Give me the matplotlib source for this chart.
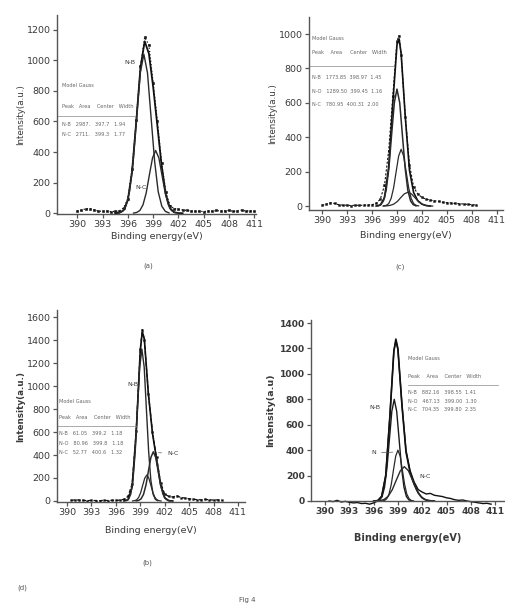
import matplotlib
matplotlib.use("Agg")
import matplotlib.pyplot as plt

plt.rcParams['font.family'] = ['DejaVu Sans']

# ---------------- data ----------------
xticks = [390, 393, 396, 399, 402, 405, 408, 411]

# panel (a)
a_raw_x = [390, 390.5, 391, 391.5, 392, 392.5, 393, 393.5, 394, 394.5, 395, 395.5, 396, 396.5, 397,
           397.5, 398, 398.5, 399, 399.5, 400, 400.5, 401, 401.5, 402, 402.5, 403, 403.5, 404, 404.5,
           405, 405.5, 406, 406.5, 407, 407.5, 408, 408.5, 409, 409.5, 410, 410.5, 411]
a_raw_y = [15, 18, 30, 28, 22, 15, 12, 14, 10, 12, 15, 35, 95, 290, 610,
           960, 1150, 1100, 850, 600, 330, 140, 50, 30, 25, 22, 18, 15, 12, 14,
           10, 15, 12, 18, 14, 16, 18, 12, 15, 20, 14, 16, 12]
a_env_x = [394.5, 395, 395.5, 396, 396.5, 397, 397.5, 398, 398.5, 399, 399.5, 400, 400.5, 401, 401.5, 402, 402.5]
a_env_y = [0, 3, 19, 85, 268, 598, 954, 1124, 1043, 828, 573, 314, 124, 32, 6, 1, 0]
a_nb_x = [394.92, 395.35, 395.78, 396.2, 396.63, 397.05, 397.48, 397.9, 398.33, 398.75, 399.18, 399.6, 400.03, 400.45, 400.88]
a_nb_y = [2, 12, 46, 141, 338, 631, 918, 1040, 918, 631, 338, 141, 46, 12, 2]
a_nc_x = [396.68, 397.05, 397.43, 397.8, 398.18, 398.55, 398.93, 399.3, 399.68, 400.05, 400.43, 400.8, 401.18, 401.55, 401.93]
a_nc_y = [1, 5, 18, 55, 133, 249, 362, 410, 362, 249, 133, 55, 18, 5, 1]
a_yticks = [0, 200, 400, 600, 800, 1000, 1200]

# panel (c)  (top right)
b_raw_x = [390, 390.5, 391, 391.5, 392, 392.5, 393, 393.5, 394, 394.5, 395, 395.5, 396, 396.5, 397,
           397.5, 398, 398.5, 399, 399.25, 399.5, 400, 400.5, 401, 401.5, 402, 402.5, 403, 403.5, 404,
           404.5, 405, 405.5, 406, 406.5, 407, 407.5, 408, 408.5]
b_raw_y = [5, 10, 20, 15, 8, 5, 5, 3, 5, 4, 5, 6, 8, 15, 40,
           120, 320, 640, 960, 990, 880, 520, 240, 110, 70, 50, 40, 35, 30, 28,
           22, 20, 18, 15, 14, 12, 10, 8, 6]
b_env_x = [396.5, 397, 397.5, 398, 398.5, 399, 399.25, 399.5, 400, 400.5, 401, 401.5, 402, 402.5, 403]
b_env_y = [0, 6, 49, 225, 596, 938, 972, 887, 516, 208, 78, 31, 11, 3, 0]
b_c1_x = [396.73, 397.05, 397.38, 397.7, 398.03, 398.35, 398.68, 399.0, 399.33, 399.65, 399.98, 400.3, 400.63, 400.95, 401.28]
b_c1_y = [1, 8, 30, 92, 221, 412, 600, 680, 600, 412, 221, 92, 30, 8, 1]
b_c2_x = [397.4, 397.7, 398.0, 398.3, 398.6, 398.9, 399.2, 399.5, 399.8, 400.1, 400.4, 400.7, 401.0, 401.3, 401.6]
b_c2_y = [1, 4, 14, 45, 107, 200, 291, 330, 291, 200, 107, 45, 14, 4, 1]
b_c3_x = [397.33, 397.75, 398.18, 398.6, 399.03, 399.45, 399.88, 400.3, 400.73, 401.15, 401.58, 402.0, 402.43, 402.85, 403.28]
b_c3_y = [0, 1, 4, 11, 26, 49, 71, 80, 71, 49, 26, 11, 4, 1, 0]
b_yticks = [0, 200, 400, 600, 800, 1000]

# panel (b)  (bottom left)
c_raw_x = [390.5, 391, 391.5, 392, 392.5, 393, 393.5, 394, 394.5, 395, 395.5, 396, 396.5, 397, 397.5,
           398, 398.5, 399, 399.25, 399.5, 400, 400.5, 401, 401.5, 402, 402.5, 403, 403.5, 404, 404.5,
           405, 405.5, 406, 406.5, 407, 407.5, 408, 408.5, 409]
c_raw_y = [5, 10, 8, 5, 3, 5, 4, 3, 5, 4, 6, 5, 8, 15, 40,
           150, 610, 1320, 1490, 1400, 930, 600, 380, 160, 60, 40, 35, 45, 30, 25,
           20, 15, 12, 10, 14, 10, 8, 10, 6]
c_env_x = [397, 397.5, 398, 398.5, 399, 399.25, 399.5, 400, 400.5, 401, 401.5, 402, 402.5, 403]
c_env_y = [0, 11, 122, 596, 1310, 1472, 1407, 927, 588, 362, 140, 28, 3, 0]
c_nb_x = [397.28, 397.55, 397.83, 398.1, 398.38, 398.65, 398.93, 399.2, 399.48, 399.75, 400.03, 400.3, 400.58, 400.85, 401.13]
c_nb_y = [3, 15, 58, 179, 429, 801, 1165, 1320, 1165, 801, 429, 179, 58, 15, 3]
c_no_x = [398.05, 398.3, 398.55, 398.8, 399.05, 399.3, 399.55, 399.8, 400.05, 400.3, 400.55, 400.8, 401.05, 401.3, 401.55]
c_no_y = [0, 3, 10, 31, 73, 137, 199, 226, 199, 137, 73, 31, 10, 3, 0]
c_nc_x = [398.5, 398.8, 399.1, 399.4, 399.7, 400.0, 400.3, 400.6, 400.9, 401.2, 401.5, 401.8, 402.1, 402.4, 402.7]
c_nc_y = [1, 5, 19, 58, 139, 260, 378, 428, 378, 260, 139, 58, 19, 5, 1]
c_yticks = [0, 200, 400, 600, 800, 1000, 1200, 1400, 1600]

# panel (d)
d_raw_x = [390.5, 391, 391.5, 392, 392.5, 393, 393.5, 394, 394.5, 395, 395.5, 396, 396.5, 397, 397.5,
           398, 398.5, 398.75, 399, 399.5, 400, 400.5, 401, 401.5, 402, 402.5, 403, 403.5, 404, 404.5,
           405, 405.5, 406, 406.5, 407, 407.5, 408, 408.5, 409, 409.5, 410, 410.5]
d_raw_y = [0, -5, 5, -8, -3, -10, -15, -12, -20, -18, -25, -15, 0, 40, 200,
           660, 1180, 1260, 1190, 760, 400, 240, 150, 90, 70, 55, 60, 45, 40, 35,
           25, 20, 10, 5, 8, 0, -5, -10, -15, -20, -18, -25]
d_env_x = [396, 396.5, 397, 397.5, 398, 398.5, 398.75, 399, 399.5, 400, 400.5, 401, 401.5, 402, 402.5, 403, 403.5]
d_env_y = [0, 3, 34, 202, 656, 1178, 1274, 1200, 752, 385, 225, 132, 64, 24, 7, 2, 0]
d_nb_x = [396.45, 396.75, 397.05, 397.35, 397.65, 397.95, 398.25, 398.55, 398.85, 399.15, 399.45, 399.75, 400.05, 400.35, 400.65]
d_nb_y = [2, 9, 35, 108, 260, 485, 706, 800, 706, 485, 260, 108, 35, 9, 2]
d_no_x = [397.08, 397.35, 397.63, 397.9, 398.18, 398.45, 398.73, 399.0, 399.28, 399.55, 399.83, 400.1, 400.38, 400.65, 400.93]
d_no_y = [1, 4, 18, 54, 130, 243, 353, 400, 353, 243, 130, 54, 18, 4, 1]
d_nc_x = [396.3, 396.8, 397.3, 397.8, 398.3, 398.8, 399.3, 399.8, 400.3, 400.8, 401.3, 401.8, 402.3, 402.8, 403.3]
d_nc_y = [1, 3, 12, 37, 88, 164, 238, 270, 238, 164, 88, 37, 12, 3, 1]
d_yticks = [0, 200, 400, 600, 800, 1000, 1200, 1400]

# fit tables (text)
a_table = ["Model Gauss", "Peak   Area    Center   Width",
           "N-B   2987.   397.7   1.94", "N-C   2711.   399.3   1.77"]
b_table = ["Model Gauss", "Peak    Area     Center   Width",
           "N-B   1773.85  398.97  1.45", "N-O   1289.50  399.45  1.16", "N-C   780.95  400.31  2.00"]
c_table = ["Model Gauss", "Peak   Area    Center   Width",
           "N-B   61.05   399.2   1.18", "N-O   80.96   399.8   1.18", "N-C   52.77   400.6   1.32"]
d_table = ["Model Gauss", "Peak    Area    Center   Width",
           "N-B   882.16   398.55  1.41", "N-O   467.13   399.00  1.30", "N-C   704.35   399.80  2.35"]

TXT = '#3a3a3a'
LN = '#111111'

fig = plt.figure(figsize=(5.05, 6.10), dpi=100)


def make_ax(rect, xlim, ylim, yticks, bold=False, fs=6.8):
    ax = fig.add_axes(rect)
    ax.set_xlim(*xlim)
    ax.set_ylim(*ylim)
    ax.set_xticks(xticks)
    ax.set_yticks(yticks)
    for s in ('top', 'right'):
        ax.spines[s].set_visible(False)
    for s in ('left', 'bottom'):
        ax.spines[s].set_color('#555555')
        ax.spines[s].set_linewidth(1.0)
    ax.tick_params(direction='out', length=3, width=0.9, colors='#555555',
                   labelsize=fs, labelcolor=TXT, pad=1.5)
    if bold:
        for lab in ax.get_xticklabels() + ax.get_yticklabels():
            lab.set_fontweight('bold')
    ax.patch.set_alpha(0)
    return ax


def table(ax, lines, x0, ys, xline):
    ax.text(x0, ys[0], lines[0], fontsize=3.6, color='#666666', va='center', ha='left')
    ax.text(x0, ys[1], lines[1], fontsize=3.6, color='#666666', va='center', ha='left')
    ax.plot(xline, [ys[2], ys[2]], color='#888888', lw=0.5)
    for t, y in zip(lines[2:], ys[3:]):
        ax.text(x0, y, t, fontsize=3.6, color='#666666', va='center', ha='left')


# ---- panel (a) top-left ----
ax = make_ax([0.1129, 0.6492, 0.394, 0.3262], (387.6, 411.2), (-5, 1296), a_yticks)
ax.plot(a_raw_x, a_raw_y, color=LN, lw=0.9, ls=':', marker='s', ms=1.8, mew=0.4)
ax.plot(a_env_x, a_env_y, color=LN, lw=1.3)
ax.plot(a_nb_x, a_nb_y, color='#2a2a2a', lw=1.0)
ax.plot(a_nc_x, a_nc_y, color='#2a2a2a', lw=1.0)
ax.text(396.3, 985, "N-B", fontsize=4.5, color=TXT, ha='center', va='center')
ax.text(397.6, 170, "N-C", fontsize=4.5, color=TXT, ha='center', va='center')
table(ax, a_table, 388.2, [834, 697, 635, 580, 515], [387.6, 396.8])
ax.set_xlabel("Binding energy(eV)", fontsize=6.8, color=TXT, labelpad=2)
ax.set_ylabel("Intensity(a.u.)", fontsize=6.3, color=TXT, labelpad=1)

# ---- panel (c) top-right ----
ax = make_ax([0.6119, 0.6557, 0.3842, 0.3164], (388.44, 411.73), (-23, 1099), b_yticks)
ax.plot(b_raw_x, b_raw_y, color=LN, lw=0.8, ls=(0, (2, 1.5)), marker='s', ms=1.4, mew=0.3)
ax.plot(b_env_x, b_env_y, color=LN, lw=1.2)
ax.plot(b_c1_x, b_c1_y, color='#2a2a2a', lw=1.1)
ax.plot(b_c2_x, b_c2_y, color='#2a2a2a', lw=0.9)
ax.plot(b_c3_x, b_c3_y, color='#2a2a2a', lw=0.9)
table(ax, b_table, 388.8, [977, 890, 814, 745, 665, 590], [388.44, 398.6])
ax.set_xlabel("Binding energy(eV)", fontsize=6.8, color=TXT, labelpad=4)
ax.set_ylabel("Intensity(a.u.)", fontsize=6.3, color=TXT, labelpad=1)

# ---- panel (b) bottom-left ----
ax = make_ax([0.1129, 0.1770, 0.3723, 0.3148], (388.77, 411.87), (-9, 1661), c_yticks)
ax.plot(c_raw_x, c_raw_y, color=LN, lw=0.9, ls=(0, (3, 1.5)), marker='s', ms=1.3, mew=0.3)
ax.plot(c_env_x, c_env_y, color=LN, lw=1.2)
ax.plot(c_nb_x, c_nb_y, color='#2a2a2a', lw=1.0)
ax.plot(c_no_x, c_no_y, color='#2a2a2a', lw=0.9)
ax.plot(c_nc_x, c_nc_y, color='#2a2a2a', lw=1.1)
ax.text(398.1, 1010, "N-B", fontsize=4.5, color=TXT, ha='center', va='center')
ax.annotate("N-C", xy=(400.9, 420), xytext=(402.3, 417), fontsize=4.5, color=TXT,
            ha='left', va='center', arrowprops=dict(arrowstyle='-', color='#555555', lw=0.5))
table(ax, c_table, 389.0, [861, 722, 655, 591, 504, 426], [388.77, 398.6])
ax.set_xlabel("Binding energy(eV)", fontsize=6.8, color=TXT, labelpad=6)
ax.set_ylabel("Intensity(a.u.)", fontsize=6.3, color=TXT, labelpad=1, fontweight='bold')

# ---- panel (d) bottom-right ----
ax = make_ax([0.6158, 0.1787, 0.3842, 0.2967], (388.27, 412.22), (0, 1424), d_yticks,
             bold=True, fs=6.6)
ax.plot(d_raw_x, d_raw_y, color=LN, lw=1.0, clip_on=False)
ax.plot(d_env_x, d_env_y, color=LN, lw=1.2)
ax.plot(d_nb_x, d_nb_y, color='#1a1a1a', lw=1.0)
ax.plot(d_no_x, d_no_y, color='#2a2a2a', lw=0.9)
ax.plot(d_nc_x, d_nc_y, color='#2a2a2a', lw=1.0)
ax.text(396.2, 732, "N-B", fontsize=4.5, color=TXT, ha='center', va='center')
ax.annotate("N", xy=(398.7, 385), xytext=(396.0, 378), fontsize=4.5, color=TXT,
            ha='center', va='center', arrowprops=dict(arrowstyle='-', color='#555555', lw=0.5))
ax.text(402.4, 190, "N-C", fontsize=4.5, color=TXT, ha='center', va='center')
table(ax, d_table, 400.3, [1118, 979, 913, 850, 780, 716], [400.2, 411.3])
ax.set_xlabel("Binding energy(eV)", fontsize=7, color=TXT, labelpad=12, fontweight='bold')
ax.set_ylabel("Intensity(a.u)", fontsize=6.8, color=TXT, labelpad=3, fontweight='bold')

# ---- captions ----
fig.text(148 / 505, 1 - 266 / 610, "(a)", fontsize=5, color='#555555', ha='center', va='center')
fig.text(400 / 505, 1 - 267 / 610, "(c)", fontsize=5, color='#555555', ha='center', va='center')
fig.text(147 / 505, 1 - 563 / 610, "(b)", fontsize=5, color='#555555', ha='center', va='center')
fig.text(22 / 505, 1 - 588 / 610, "(d)", fontsize=5, color='#555555', ha='center', va='center')
fig.text(247 / 505, 1 - 600 / 610, "Fig 4", fontsize=5, color='#555555', ha='center', va='center')

fig.savefig("out.png", dpi=100)
